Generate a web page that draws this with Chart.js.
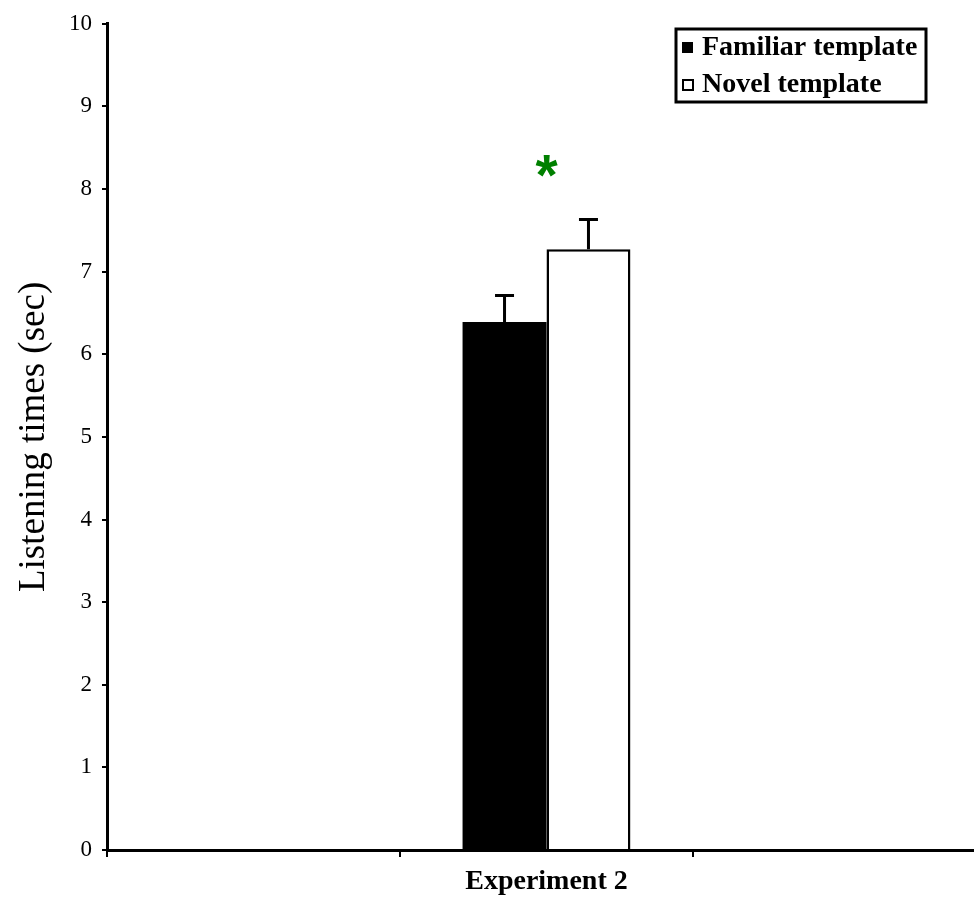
<!DOCTYPE html>
<html>
<head>
<meta charset="utf-8">
<script src="https://cdn.jsdelivr.net/npm/chart.js@4"></script>
<style>
  html, body { margin: 0; padding: 0; background: #fff; overflow: hidden; }
  #wrap { width: 990px; height: 900px; }
  canvas { display: block; background: #fff; }
</style>
</head>
<body>
<div id="wrap"><canvas id="c" width="990" height="900"></canvas></div>
<script>
// ---- data ----
const categories = ['', 'Experiment 2', ''];
const seriesNames = ['Familiar template', 'Novel template'];
const familiarValues = [null, 6.39, null];
const novelValues = [null, 7.27, null];
const familiarErrors = [null, 0.32, null];
const novelErrors = [null, 0.36, null];
const yTicks = [0, 1, 2, 3, 4, 5, 6, 7, 8, 9, 10];
const significanceLabels = ['', '*', ''];
const significanceValues = [null, 8.28, null];

const errorsBySeries = [familiarErrors, novelErrors];

const errorBarPlugin = {
  id: 'errorBars',
  afterDatasetsDraw(chart) {
    const ctx = chart.ctx;
    const y = chart.scales.y;
    ctx.save();
    ctx.strokeStyle = '#000';
    ctx.lineWidth = 3;
    chart.data.datasets.forEach((ds, di) => {
      const meta = chart.getDatasetMeta(di);
      meta.data.forEach((bar, i) => {
        const v = ds.data[i];
        const e = errorsBySeries[di][i];
        if (v == null || e == null) return;
        const top = y.getPixelForValue(v + e);
        ctx.beginPath();
        ctx.moveTo(bar.x, bar.y);
        ctx.lineTo(bar.x, top);
        ctx.moveTo(bar.x - 9.5, top);
        ctx.lineTo(bar.x + 9.5, top);
        ctx.stroke();
      });
    });
    // significance marker
    const x = chart.scales.x;
    ctx.fillStyle = '#008000';
    ctx.font = 'bold 57px "Liberation Sans", Arial, sans-serif';
    ctx.textAlign = 'center';
    ctx.textBaseline = 'alphabetic';
    significanceValues.forEach((v, i) => {
      if (v == null) return;
      const t = significanceLabels[i];
      const m = ctx.measureText(t);
      const cy = y.getPixelForValue(v);
      const base = cy + (m.actualBoundingBoxAscent - m.actualBoundingBoxDescent) / 2;
      ctx.fillText(t, x.getPixelForValue(i), base);
    });
    ctx.restore();
  }
};

const legendPlugin = {
  id: 'boxLegend',
  afterDraw(chart) {
    const ctx = chart.ctx;
    ctx.save();
    ctx.strokeStyle = '#000';
    ctx.lineWidth = 3;
    ctx.strokeRect(676, 29, 250, 73);
    ctx.font = 'bold 28px "Liberation Serif", "Times New Roman", serif';
    ctx.textAlign = 'left';
    ctx.textBaseline = 'alphabetic';
    const rows = [55, 92];
    chart.data.datasets.forEach((ds, i) => {
      const by = rows[i] - 13;
      if (i === 0) {
        ctx.fillStyle = '#000';
        ctx.fillRect(682, by, 11, 11);
      } else {
        ctx.lineWidth = 2;
        ctx.strokeRect(683, by + 1, 10, 10);
      }
      ctx.fillStyle = '#000';
      ctx.fillText(ds.label, 702, rows[i]);
    });
    ctx.restore();
  }
};

new Chart(document.getElementById('c'), {
  type: 'bar',
  data: {
    labels: categories,
    datasets: [
      { label: seriesNames[0], data: familiarValues, backgroundColor: '#000', borderColor: '#000', borderWidth: 0 },
      { label: seriesNames[1], data: novelValues, backgroundColor: '#fff', borderColor: '#000', borderWidth: 2.5 }
    ]
  },
  options: {
    responsive: false,
    devicePixelRatio: 1,
    animation: false,
    layout: { padding: { top: 20, right: 4, bottom: 0, left: 0 } },
    categoryPercentage: 0.573,
    barPercentage: 1.0,
    plugins: { legend: { display: false }, tooltip: { enabled: false } },
    scales: {
      x: {
        type: 'category',
        offset: true,
        afterFit(s) { s.height = 50; },
        grid: { display: true, offset: true, drawOnChartArea: false, drawTicks: true, tickLength: 7, color: '#000', lineWidth: 2 },
        border: { display: true, color: '#000', width: 3 },
        ticks: {
          color: '#000',
          padding: 8,
          font: { family: '"Liberation Serif", "Times New Roman", serif', size: 28, weight: 'bold' }
        }
      },
      y: {
        min: 0,
        max: 10,
        afterFit(s) { s.width = 107; },
        afterBuildTicks(s) { s.ticks = yTicks.map(v => ({ value: v })); },
        grid: { display: true, drawOnChartArea: false, drawTicks: true, tickLength: 5, color: '#000', lineWidth: 2 },
        border: { display: true, color: '#000', width: 3 },
        ticks: {
          color: '#000',
          padding: 10,
          font: { family: '"Liberation Serif", "Times New Roman", serif', size: 23 }
        },
        title: {
          display: true,
          text: 'Listening times (sec)',
          color: '#000',
          padding: { top: 12, bottom: 0 },
          font: { family: '"Liberation Serif", "Times New Roman", serif', size: 37, weight: 'normal' }
        }
      }
    }
  },
  plugins: [errorBarPlugin, legendPlugin]
});
</script>
</body>
</html>
